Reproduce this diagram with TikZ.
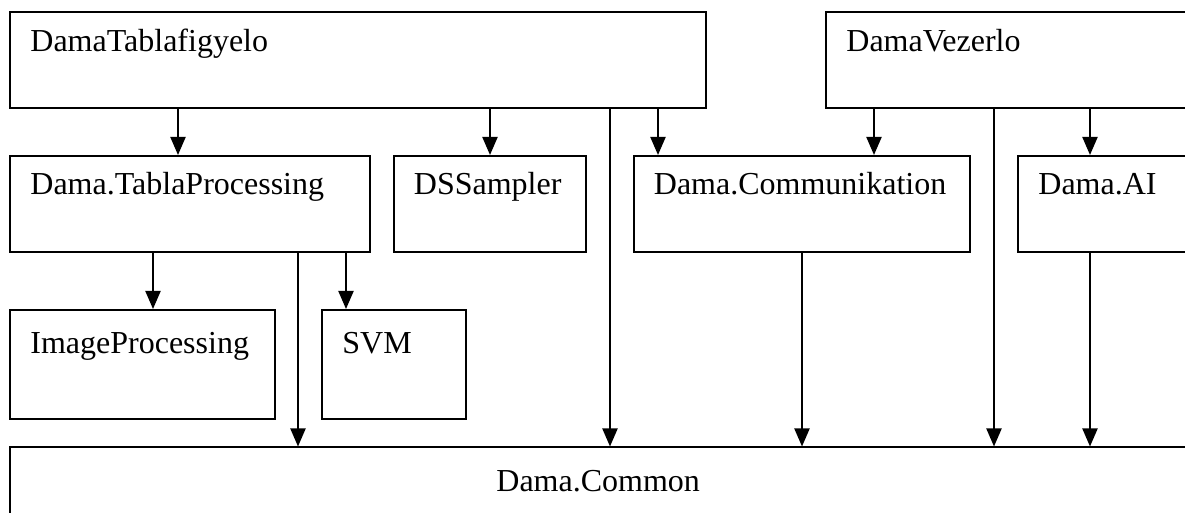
\documentclass[tikz,border=0pt]{standalone}
\usepackage{fontspec}
\setmainfont{Liberation Serif}
\usetikzlibrary{arrows.meta,fit}

\begin{document}
\begin{tikzpicture}[x=0.5pt,y=-0.5pt]
\tikzset{modbox/.style={draw, line width=1pt, inner sep=0pt},
  cim/.style={anchor=base west, inner sep=0pt, xshift=10.5pt, yshift=-20pt,
    font=\fontsize{16}{19}\selectfont},
  cimlow/.style={cim, yshift=-2.5pt},
  pfeil/.style={line width=1pt, -{Triangle[length=9pt,width=7.5pt]}}}
\useasboundingbox (0,0) rectangle (1185,513);
\clip (0,0) rectangle (1185,513);
% top row
\node [modbox, fit={(10,12.5) (706,108)}, label={[cim]north west:DamaTablafigyelo}] (tabla) {};
\node [modbox, fit={(826,12.5) (1210,108)}, label={[cim]north west:DamaVezerlo}] (vezerlo) {};
% middle row
\node [modbox, fit={(10,156) (370,252)}, label={[cim]north west:Dama.TablaProcessing}] (tproc) {};
\node [modbox, fit={(393.5,156) (586,252)}, label={[cim]north west:DSSampler}] (dss) {};
\node [modbox, fit={(633.5,156) (970,252)}, label={[cim]north west:Dama.Communikation}] (komm) {};
\node [modbox, fit={(1018,156) (1210,252)}, label={[cim]north west:Dama.AI}] (ai) {};
% lower row
\node [modbox, fit={(10,310) (274.5,419.5)}, label={[cimlow]north west:ImageProcessing}] (imgp) {};
\node [modbox, fit={(322,310) (466,419.5)}, label={[cimlow]north west:SVM}] (svm) {};
\node [modbox, fit={(10,447.5) (1210,560)}, label={[cimlow, xshift=233pt]north west:Dama.Common}] (common) {};
% dependencies
\draw [pfeil] (178,0 |- tabla.south) -- (178,0 |- tproc.north);
\draw [pfeil] (490,0 |- tabla.south) -- (490,0 |- dss.north);
\draw [pfeil] (610,0 |- tabla.south) -- (610,0 |- common.north);
\draw [pfeil] (658,0 |- tabla.south) -- (658,0 |- komm.north);
\draw [pfeil] (874,0 |- vezerlo.south) -- (874,0 |- komm.north);
\draw [pfeil] (994,0 |- vezerlo.south) -- (994,0 |- common.north);
\draw [pfeil] (1090,0 |- vezerlo.south) -- (1090,0 |- ai.north);
\draw [pfeil] (153,0 |- tproc.south) -- (153,0 |- imgp.north);
\draw [pfeil] (298,0 |- tproc.south) -- (298,0 |- common.north);
\draw [pfeil] (346,0 |- tproc.south) -- (346,0 |- svm.north);
\draw [pfeil] (802,0 |- komm.south) -- (802,0 |- common.north);
\draw [pfeil] (1090,0 |- ai.south) -- (1090,0 |- common.north);
\end{tikzpicture}
\end{document}
